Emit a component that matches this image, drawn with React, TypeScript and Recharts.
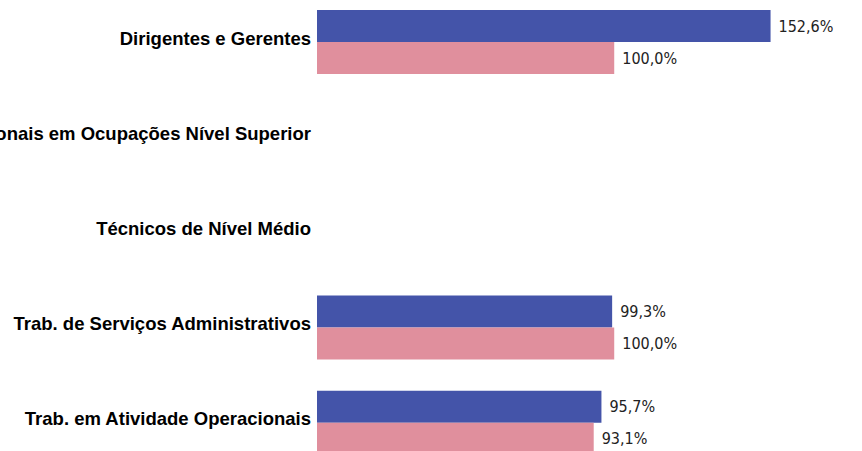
import React from "react";
import { BarChart, Bar, XAxis, YAxis, LabelList } from "recharts";

const categorias = [
  "Dirigentes e Gerentes",
  "Profissionais em Ocupações Nível Superior",
  "Técnicos de Nível Médio",
  "Trab. de Serviços Administrativos",
  "Trab. em Atividade Operacionais",
];
const serieAzul = [152.6, null, null, 99.3, 95.7];
const serieRosa = [100.0, null, null, 100.0, 93.1];

const data = categorias.map((cat, i) => ({
  cat,
  azul: serieAzul[i],
  rosa: serieRosa[i],
}));

const formatPct = (v: any) =>
  v === null || v === undefined ? "" : `${Number(v).toFixed(1).replace(".", ",")}%`;

// category label, bold, right aligned next to the bars
const CategoryTick = (props: any) => {
  const { x, y, payload } = props;
  return (
    <text
      x={x}
      y={y}
      dy={3}
      textAnchor="end"
      fontFamily="'Liberation Sans', Arial, sans-serif"
      fontWeight="bold"
      fontSize={18.5}
      fill="#000"
    >
      {payload.value}
    </text>
  );
};

const valueLabelStyle = {
  fontFamily: "'DejaVu Sans Condensed', 'DejaVu Sans', sans-serif",
  fontSize: 16,
  fill: "#222",
};

export default function App() {
  return (
    <div
      style={{
        position: "absolute",
        left: 0,
        top: 0,
        width: 862,
        height: 451,
        overflow: "hidden",
        background: "#fff",
      }}
    >
      <div style={{ marginTop: -6 }}>
        <BarChart
          width={862}
          height={476}
          data={data}
          layout="vertical"
          margin={{ top: 0, right: 10, bottom: 0, left: 0 }}
          barGap={0}
        >
          <XAxis type="number" domain={[0, 180]} hide />
          <YAxis
            type="category"
            dataKey="cat"
            width={317}
            tickLine={false}
            axisLine={false}
            tickSize={0}
            tickMargin={6}
            tick={<CategoryTick />}
            interval={0}
          />
          <Bar dataKey="azul" fill="#4454A9" barSize={32} isAnimationActive={false}>
            <LabelList
              dataKey="azul"
              position="right"
              offset={8}
              formatter={formatPct}
              style={valueLabelStyle}
            />
          </Bar>
          <Bar dataKey="rosa" fill="#E08F9D" barSize={32} isAnimationActive={false}>
            <LabelList
              dataKey="rosa"
              position="right"
              offset={8}
              formatter={formatPct}
              style={valueLabelStyle}
            />
          </Bar>
        </BarChart>
      </div>
    </div>
  );
}
